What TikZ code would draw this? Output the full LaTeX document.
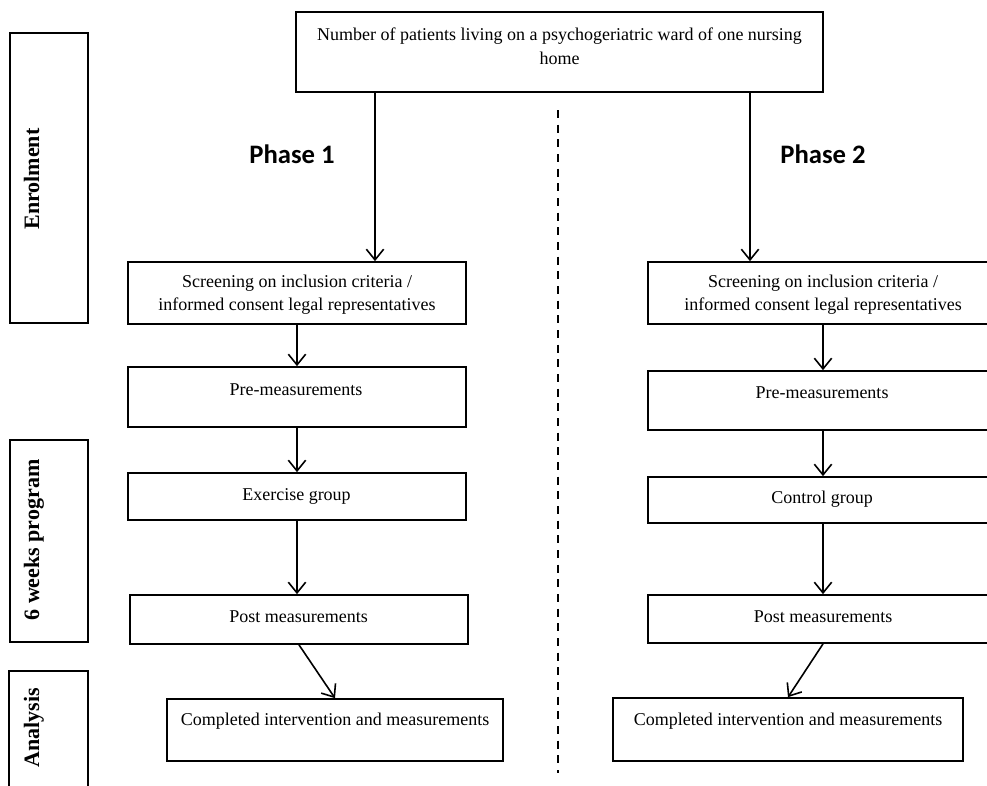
\documentclass[tikz,border=0pt]{standalone}
\usepackage{fontspec}
\setmainfont{Liberation Serif}
\newfontfamily\phasefont{Carlito}
\usetikzlibrary{arrows.meta,fit}
\begin{document}
\begin{tikzpicture}[x=0.75pt,y=-0.75pt,
  box/.style={draw, line width=1.3pt, inner sep=0pt, rectangle},
  txt/.style={anchor=base, inner sep=0pt, font=\fontsize{13.5}{16}\selectfont},
  side/.style={anchor=base, inner sep=0pt, rotate=90, font=\fontsize{16.5}{19}\selectfont\bfseries},
  phase/.style={anchor=base, inner sep=0pt, font=\phasefont\fontsize{20}{24}\selectfont\bfseries},
  arr/.style={line width=1.2pt, -{Straight Barb[length=8pt,width=13pt,line width=1.2pt]}},
  dsh/.style={line width=1.3pt, dash pattern=on 6pt off 5pt}]
\useasboundingbox (0,0) rectangle (987,785);
\clip (0,0) rectangle (987,785);

% side boxes
\node[box, fit={(10,33)(88,323)}] (L1) {};
\node[box, fit={(10,440)(88,642)}] (L2) {};
\node[box, fit={(9,671)(88,810)}] (L3) {};
\node[side] (L1t) at (39,179) {Enrolment};
\node[side] (L2t) at (39,540) {6 weeks program};
\node[side] (L3t) at (39,728) {Analysis};

% top box
\node[box, fit={(296,12)(823,92)}] (top) {};
\node[txt] (topa) at (559.5,40) {Number of patients living on a psychogeriatric ward of one nursing};
\node[txt] (topb) at (559.5,64) {home};

% phase labels
\node[phase] (ph1) at (292,163) {Phase 1};
\node[phase] (ph2) at (823,163) {Phase 2};

% dashed divider
\coordinate (d1) at (558,110);
\coordinate (d2) at (558,773);
\draw[dsh] (d1) -- (d2);

% left column
\node[box, fit={(128,262)(466,324)}] (s1) {};
\node[txt] (s1a) at (297,287) {Screening on inclusion criteria /};
\node[txt] (s1b) at (297,310) {informed consent legal representatives};
\node[box, fit={(128,367)(466,427)}] (p1) {};
\node[txt] (p1t) at (296,395) {Pre-measurements};
\node[box, fit={(128,473)(466,520)}] (e1) {};
\node[txt] (e1t) at (296.5,500) {Exercise group};
\node[box, fit={(130,595)(468,644)}] (o1) {};
\node[txt] (o1t) at (298.5,622) {Post measurements};
\node[box, fit={(167,699)(503,761)}] (c1) {};
\node[txt] (c1t) at (335,725) {Completed intervention and measurements};

% right column
\node[box, fit={(648,262)(998,324)}] (s2) {};
\node[txt] (s2a) at (823,287) {Screening on inclusion criteria /};
\node[txt] (s2b) at (823,310) {informed consent legal representatives};
\node[box, fit={(648,371)(998,430)}] (p2) {};
\node[txt] (p2t) at (822,398) {Pre-measurements};
\node[box, fit={(648,477)(998,523)}] (e2) {};
\node[txt] (e2t) at (822,503) {Control group};
\node[box, fit={(648,595)(998,643)}] (o2) {};
\node[txt] (o2t) at (823,622) {Post measurements};
\node[box, fit={(613,698)(963,761)}] (c2) {};
\node[txt] (c2t) at (788,725) {Completed intervention and measurements};

% connectors
\coordinate (a1) at (375,0);
\coordinate (a2) at (750,0);
\draw[arr] (a1 |- top.south) -- (a1 |- s1.north);
\draw[arr] (a2 |- top.south) -- (a2 |- s2.north);
\draw[arr] (s1.south) -- (s1.south |- p1.north);
\draw[arr] (p1.south) -- (p1.south |- e1.north);
\draw[arr] (e1.south) -- (e1.south |- o1.north);
\draw[arr] (o1.south) -- (c1.north);
\draw[arr] (s2.south) -- (s2.south |- p2.north);
\draw[arr] (p2.south) -- (p2.south |- e2.north);
\draw[arr] (e2.south) -- (e2.south |- o2.north);
\draw[arr] (o2.south) -- (c2.north);
\end{tikzpicture}
\end{document}
